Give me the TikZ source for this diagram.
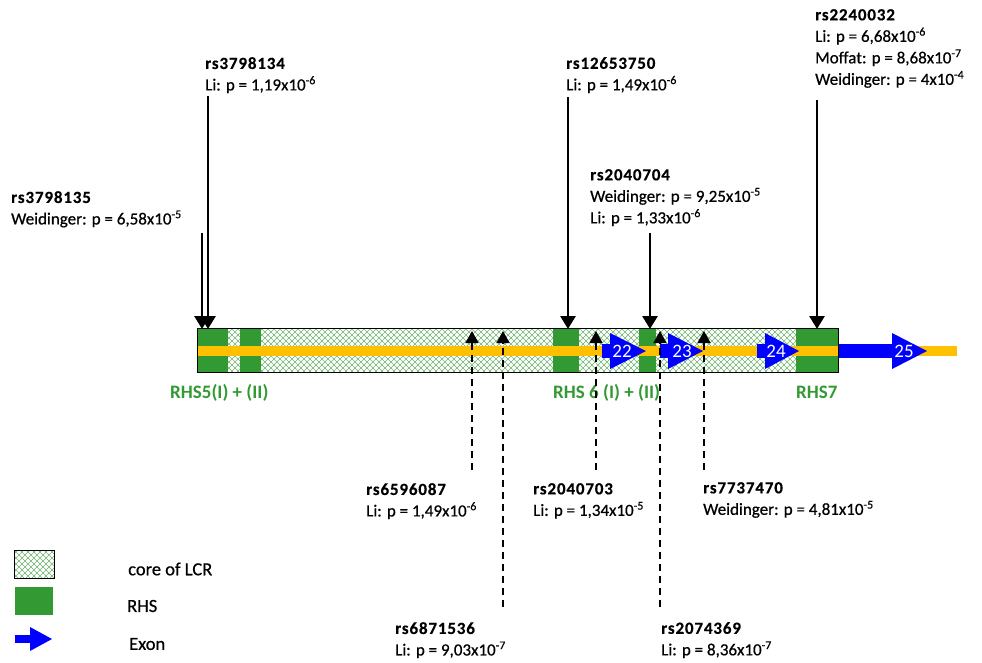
\documentclass[tikz,border=0pt]{standalone}
\usepackage{fontspec}
\setmainfont{Carlito}
\newfontfamily\lblfont{Carlito}[FakeBold=0.6]
\newfontfamily\rsfont{Carlito}[LetterSpace=5,FakeBold=0.4]
\usetikzlibrary{arrows.meta}

\definecolor{rhsgreen}{RGB}{51,153,51}
\definecolor{lcrgold}{RGB}{255,192,0}
\definecolor{exonblue}{RGB}{0,0,255}
\definecolor{hatchgreen}{RGB}{110,180,110}

\tikzset{
  snp/.style={draw=black, line width=2.8pt, -{Triangle[width=15pt,length=13pt]}},
  snpweak/.style={draw=black, line width=1.4pt, dash pattern=on 7pt off 5pt,
    -{Triangle[width=13pt,length=12pt]}},
  lbl/.style={anchor=north west, inner sep=0pt, align=left,
    font=\lblfont\fontsize{17}{21.5}\selectfont},
  rhslbl/.style={anchor=base west, inner sep=0pt, text=rhsgreen,
    font=\bfseries\fontsize{19}{20}\selectfont},
  exonnum/.style={inner sep=0pt, text=white, font=\fontsize{19}{19}\selectfont},
  legtext/.style={anchor=west, inner sep=0pt, font=\lblfont\fontsize{18.5}{20}\selectfont},
  hatchline/.style={draw=hatchgreen, line width=0.65pt},
  rhsblock/.style={fill=rhsgreen},
  exonfill/.style={fill=exonblue},
}
% rs name in bold followed by its association lines
\newcommand\rsname[1]{{\rsfont\bfseries #1}}
\newcommand\pexp[1]{\textsuperscript{#1}}
% exon: body from #1 to #2, triangle from #2 to tip #3
\newcommand\exonshape[3]{%
  \fill[exonfill] (#1,344) rectangle (#2+1,358);
  \fill[exonfill] (#2,333) -- (#3,351) -- (#2,369) -- cycle;}

\begin{document}
\begin{tikzpicture}[x=1pt,y=-1pt]
\useasboundingbox (0,0) rectangle (982,662);

% ---- core of the LCR: hatched box ----
\fill[white] (197,328) rectangle (838,372);
\begin{scope}
  \clip (197,328) rectangle (838,372);
  \foreach \k in {-56,-50,...,650} {
    \draw[hatchline] ({197+\k},328) -- ++(44,44);
    \draw[hatchline] ({197+\k},372) -- ++(44,-44);
  }
\end{scope}

% ---- hypersensitive sites ----
\fill[rhsblock] (197,328) rectangle (228,372);
\fill[rhsblock] (240,328) rectangle (261,372);
\fill[rhsblock] (553,328) rectangle (579,372);
\fill[rhsblock] (639,328) rectangle (656,372);
\fill[rhsblock] (796,328) rectangle (838,372);

% ---- gene axis ----
\fill[lcrgold] (197,346) rectangle (957,356);

% ---- exons ----
\exonshape{602}{610}{646}
\exonshape{660}{668}{703}
\exonshape{757}{765}{799}
\exonshape{838}{892}{927}
\node[exonnum] (e22) at (622,351) {22};
\node[exonnum] (e23) at (682,351) {23};
\node[exonnum] (e24) at (776,351) {24};
\node[exonnum] (e25) at (904,351) {25};

\draw[black, line width=1pt] (197,328) rectangle (838,372);

% ---- RHS labels ----
\node[rhslbl] (rhs5) at (170,398) {RHS5(I) + (II)};
\node[rhslbl] (rhs6) at (553,398) {RHS 6 (I) + (II)};
\node[rhslbl] (rhs7) at (796,398) {RHS7};

% ---- SNP labels above the axis ----
\node[lbl] (l3798135) at (11,191) {\rsname{rs3798135}\\Weidinger: p = 6,58x10\pexp{-5}};
\node[lbl] (l3798134) at (205,57) {\rsname{rs3798134}\\Li: p = 1,19x10\pexp{-6}};
\node[lbl] (l12653750) at (566,57) {\rsname{rs12653750}\\Li: p = 1,49x10\pexp{-6}};
\node[lbl] (l2040704) at (590,169) {\rsname{rs2040704}\\Weidinger: p = 9,25x10\pexp{-5}\\Li: p = 1,33x10\pexp{-6}};
\node[lbl] (l2240032) at (815,9) {\rsname{rs2240032}\\Li: p = 6,68x10\pexp{-6}\\Moffat: p = 8,68x10\pexp{-7}\\Weidinger: p = 4x10\pexp{-4}};

% ---- SNP labels below the axis ----
\node[lbl] (l6596087) at (366,483) {\rsname{rs6596087}\\Li: p = 1,49x10\pexp{-6}};
\node[lbl] (l2040703) at (533,483) {\rsname{rs2040703}\\Li: p = 1,34x10\pexp{-5}};
\node[lbl] (l7737470) at (703,482) {\rsname{rs7737470}\\Weidinger: p = 4,81x10\pexp{-5}};
\node[lbl] (l6871536) at (395,622) {\rsname{rs6871536}\\Li: p = 9,03x10\pexp{-7}};
\node[lbl] (l2074369) at (661,622) {\rsname{rs2074369}\\Li: p = 8,36x10\pexp{-7}};

% ---- SNP positions ----
\coordinate (a1) at (202,233); \coordinate (t1) at (202,329);
\coordinate (a2) at (208,96);  \coordinate (t2) at (208,329);
\coordinate (a3) at (568,97);  \coordinate (t3) at (568,329);
\coordinate (a4) at (650,233); \coordinate (t4) at (650,329);
\coordinate (a5) at (817,100); \coordinate (t5) at (817,329);
\draw[snp] (a1) -- (t1);
\draw[snp] (a2) -- (t2);
\draw[snp] (a3) -- (t3);
\draw[snp] (a4) -- (t4);
\draw[snp] (a5) -- (t5);

\coordinate (b1) at (472,470); \coordinate (u1) at (472,331);
\coordinate (b2) at (503,607); \coordinate (u2) at (503,331);
\coordinate (b3) at (596,470); \coordinate (u3) at (596,331);
\coordinate (b4) at (660,607); \coordinate (u4) at (660,331);
\coordinate (b5) at (704,470); \coordinate (u5) at (704,331);
\draw[snpweak] (b1) -- (u1);
\draw[snpweak] (b2) -- (u2);
\draw[snpweak] (b3) -- (u3);
\draw[snpweak] (b4) -- (u4);
\draw[snpweak] (b5) -- (u5);

% ---- legend ----
\fill[white] (14,550) rectangle (54,578);
\begin{scope}
  \clip (14,550) rectangle (54,578);
  \foreach \k in {-36,-30,...,40} {
    \draw[hatchline] ({14+\k},550) -- ++(28,28);
    \draw[hatchline] ({14+\k},578) -- ++(28,-28);
  }
\end{scope}
\draw[black, line width=1pt] (14,550) rectangle (54,578);
\fill[rhsblock] (15,587) rectangle (53,615);
\fill[exonfill] (15,635) rectangle (31,643);
\fill[exonfill] (30,627) -- (52,639) -- (30,651) -- cycle;
\node[legtext] (leg1) at (128,569) {core of LCR};
\node[legtext] (leg2) at (127,606) {RHS};
\node[legtext] (leg3) at (129,644) {Exon};
\end{tikzpicture}
\end{document}
